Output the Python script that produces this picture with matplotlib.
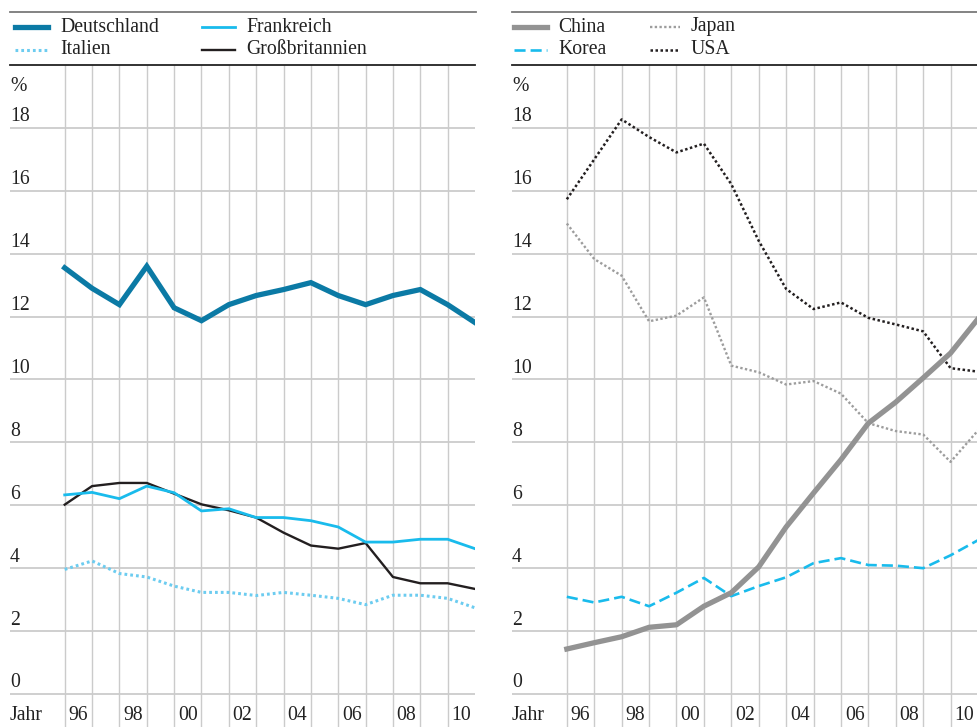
import matplotlib
matplotlib.use("Agg")
import matplotlib.pyplot as plt
from matplotlib.lines import Line2D

plt.rcParams['font.family'] = ['Liberation Serif', 'DejaVu Serif']

years = list(range(1996, 2012))
tick_labels = ["96", "98", "00", "02", "04", "06", "08", "10"]
tick_years = [1996, 1998, 2000, 2002, 2004, 2006, 2008, 2010]

deutschland = [13.55, 12.9, 12.38, 13.6, 12.28, 11.87, 12.38, 12.67, 12.86, 13.08, 12.67, 12.38, 12.67, 12.86, 12.38, 11.81]
frankreich = [6.33, 6.41, 6.21, 6.61, 6.40, 5.82, 5.89, 5.61, 5.61, 5.51, 5.31, 4.83, 4.83, 4.92, 4.92, 4.62]
italien = [3.96, 4.23, 3.83, 3.72, 3.43, 3.23, 3.23, 3.13, 3.23, 3.14, 3.04, 2.84, 3.14, 3.14, 3.04, 2.74]
grossbritannien = [6.02, 6.61, 6.71, 6.71, 6.37, 6.03, 5.84, 5.61, 5.13, 4.72, 4.62, 4.80, 3.72, 3.52, 3.52, 3.34]

china = [1.43, 1.63, 1.82, 2.12, 2.20, 2.79, 3.22, 4.04, 5.31, 6.39, 7.45, 8.61, 9.28, 10.05, 10.84, 11.93]
korea = [3.09, 2.91, 3.09, 2.79, 3.22, 3.69, 3.11, 3.43, 3.71, 4.16, 4.32, 4.10, 4.08, 4.00, 4.41, 4.89]
japan = [14.96, 13.83, 13.30, 11.85, 12.03, 12.61, 10.44, 10.23, 9.84, 9.95, 9.55, 8.61, 8.36, 8.25, 7.38, 8.38]
usa = [15.73, 17.0, 18.27, 17.71, 17.22, 17.50, 16.21, 14.41, 12.88, 12.24, 12.45, 11.96, 11.75, 11.53, 10.36, 10.25]

y_ticks = [0, 2, 4, 6, 8, 10, 12, 14, 16, 18]

W, H = 978, 727
fig = plt.figure(figsize=(W / 100, H / 100), dpi=100)

GRID = '#cbcbcb'
FS = 14.2

def fx(px):
    return px / W

def fy(py):
    return 1 - py / H

def setup(ax):
    ax.set_xlim(1994, 2011)
    ax.set_ylim(-1.05, 20)
    for s in ['left', 'right', 'bottom']:
        ax.spines[s].set_visible(False)
    ax.spines['top'].set_color('#222222')
    ax.spines['top'].set_linewidth(1.3)
    ax.set_xticks([])
    ax.set_yticks([])
    for yv in y_ticks:
        ax.axhline(yv, color=GRID, lw=1.3, zorder=0)
        ax.text(1994, yv + 0.05, str(yv), ha='left', va='bottom', fontsize=FS, color='#222222')
    ax.text(1994, 19.0, '%', ha='left', va='bottom', fontsize=FS, color='#222222')
    for yr in range(1996, 2011):
        ax.axvline(yr, color=GRID, lw=1.0, zorder=0)
    ax.text(1994, -0.68, 'Jahr', ha='left', va='center', fontsize=FS, color='#222222')
    for yr, lab in zip(tick_years, tick_labels):
        ax.text(yr + 0.5, -0.68, lab, ha='center', va='center', fontsize=FS, color='#222222')

ax1 = fig.add_axes([fx(10), 0, fx(465), fy(65)])
ax2 = fig.add_axes([fx(512), 0, fx(466), fy(65)])
setup(ax1)
setup(ax2)

C_DE = '#0b7aa5'
C_FR = '#19bbec'
C_IT = '#6cccf0'
C_GB = '#231f20'
C_CN = '#939393'
C_JP = '#9d9d9d'
C_US = '#231f20'
C_KR = '#19bbec'

st_de = dict(color=C_DE, lw=3.8, solid_joinstyle='miter')
st_fr = dict(color=C_FR, lw=2.0)
st_it = dict(color=C_IT, lw=2.2, ls=(0, (0.9, 1.0)))
st_gb = dict(color=C_GB, lw=1.7)
st_cn = dict(color=C_CN, lw=3.8)
st_jp = dict(color=C_JP, lw=1.7, ls=(0, (1, 1)))
st_kr = dict(color=C_KR, lw=1.9, ls=(0, (4.2, 1.9)))
st_us = dict(color=C_US, lw=1.8, ls=(0, (1, 1)))

ax1.plot(years, italien, zorder=3, **st_it)
ax1.plot(years, grossbritannien, zorder=4, **st_gb)
ax1.plot(years, frankreich, zorder=5, **st_fr)
ax1.plot(years, deutschland, zorder=6, **st_de)

ax2.plot(years, japan, zorder=3, **st_jp)
ax2.plot(years, usa, zorder=4, **st_us)
ax2.plot(years, korea, zorder=5, **st_kr)
ax2.plot(years, china, zorder=6, **st_cn)

# top grey rules
fig.add_artist(Line2D([fx(10), fx(476)], [fy(12), fy(12)], color='#7a7a7a', lw=1.3))
fig.add_artist(Line2D([fx(512), fx(978)], [fy(12), fy(12)], color='#7a7a7a', lw=1.3))

def legend_item(x0, x1, xt, y, label, kw):
    fig.add_artist(Line2D([fx(x0), fx(x1)], [fy(y), fy(y)], **kw))
    fig.text(fx(xt), fy(y), label, ha='left', va='center', fontsize=FS, color='#222222')

legend_item(15, 48, 60, 27, 'Deutschland', st_de)
legend_item(202, 235, 246, 27, 'Frankreich', st_fr)
legend_item(15, 48, 60, 50, 'Italien', st_it)
legend_item(202, 235, 246, 50, 'Großbritannien', st_gb)

legend_item(514, 547, 558, 27, 'China', st_cn)
legend_item(650, 680, 691, 27, 'Japan', st_jp)
legend_item(514, 547, 558, 50, 'Korea', st_kr)
legend_item(650, 680, 691, 50, 'USA', st_us)

fig.savefig('out.png', dpi=100)
